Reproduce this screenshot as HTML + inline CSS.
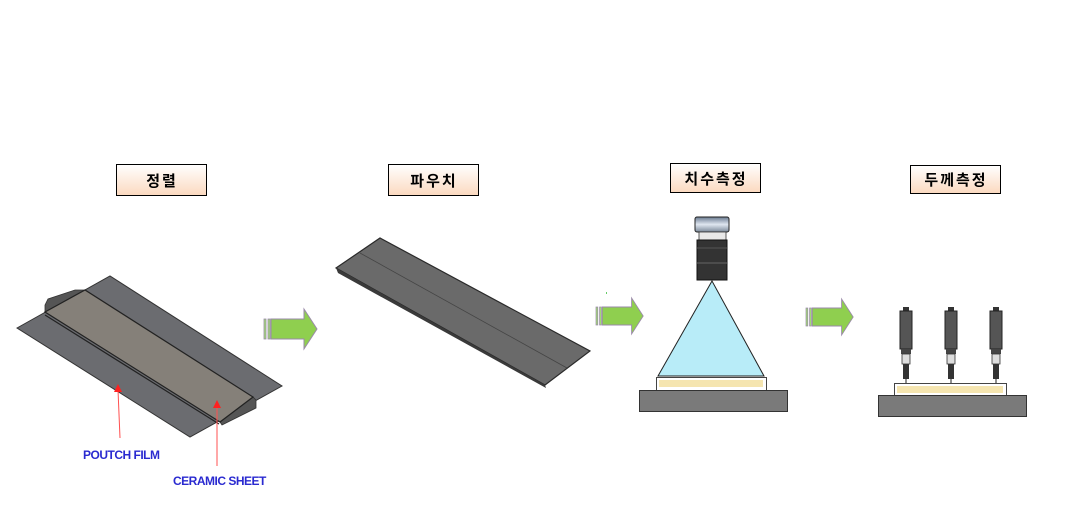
<!DOCTYPE html>
<html><head><meta charset="utf-8"><style>
body{margin:0;background:#fff;}
svg{display:block}
text{font-family:"Liberation Sans","Noto Sans CJK KR",sans-serif}
</style></head><body>
<svg width="1092" height="519" viewBox="0 0 1092 519" xmlns="http://www.w3.org/2000/svg">
<defs>
<linearGradient id="lg" x1="0" y1="0" x2="0" y2="1"><stop offset="0" stop-color="#fff"/><stop offset="1" stop-color="#fbd9bf"/></linearGradient>
<linearGradient id="cam" x1="0" y1="0" x2="0" y2="1"><stop offset="0" stop-color="#6a7a90"/><stop offset="0.5" stop-color="#dfe6f0"/><stop offset="1" stop-color="#7a8898"/></linearGradient>
<g id="arr">
<rect x="0" y="10" width="2" height="20" fill="#a0e070" stroke="#9a8aa8" stroke-width="0.8"/>
<rect x="4" y="10" width="2" height="20" fill="#a0e070" stroke="#9a8aa8" stroke-width="0.8"/>
<polygon points="7,10 40,10 40,0 53,20 40,40 40,30 7,30" fill="#8fcf4f" stroke="#9a8aa8" stroke-width="1"/>
</g>
<g id="probe">
<rect x="-3" y="0" width="6" height="5" fill="#333"/>
<rect x="-6" y="4" width="12" height="38" fill="#555" stroke="#222" stroke-width="1"/>
<rect x="-5" y="42" width="10" height="5" fill="#444"/>
<rect x="-4" y="47" width="8" height="10" fill="#ddd" stroke="#333" stroke-width="0.8"/>
<rect x="-3" y="57" width="6" height="15" fill="#333"/>
<line x1="0" y1="72" x2="0" y2="76" stroke="#222" stroke-width="1"/>
</g>
</defs>

<!-- labels -->
<g stroke="#000" stroke-width="1" fill="url(#lg)">
<rect x="116.5" y="164.5" width="90" height="31"/>
<rect x="388.5" y="164.5" width="90" height="31"/>
<rect x="670.5" y="163.5" width="90" height="29"/>
<rect x="910.5" y="165.5" width="90" height="28"/>
</g>
<g font-size="15" font-weight="bold" text-anchor="middle" fill="#000" letter-spacing="2">
<text x="162" y="186">정렬</text>
<text x="434" y="186">파우치</text>
<text x="716" y="184">치수측정</text>
<text x="956" y="185">두께측정</text>
</g>

<!-- left figure -->
<polygon points="17,328 110,276 282,386 190,437" fill="#6b6c70" stroke="#333" stroke-width="1"/>
<polygon points="45,305 48,299 75,290 85,290 45,312" fill="#555" stroke="#333" stroke-width="0.8"/>
<polygon points="220,422 253,397 256,400 256,408 222,425" fill="#555" stroke="#333" stroke-width="0.8"/>
<polygon points="45,312 85,290 253,397 220,422" fill="#858079" stroke="#222" stroke-width="1.2"/>
<line x1="45" y1="315" x2="219" y2="424" stroke="#222" stroke-width="1.2"/>
<line x1="120" y1="438" x2="118" y2="390" stroke="#ff5050" stroke-width="1"/>
<polygon points="114,392 118,384 122,392" fill="#ff2020"/>
<line x1="217" y1="466" x2="217" y2="406" stroke="#ff5050" stroke-width="1"/>
<polygon points="213,408 217,400 221,408" fill="#ff2020"/>
<text x="83" y="459" font-size="12" font-weight="bold" fill="#2a2ad0" letter-spacing="-0.5">POUTCH FILM</text>
<text x="173" y="485" font-size="12" font-weight="bold" fill="#2a2ad0" letter-spacing="-0.5">CERAMIC SHEET</text>

<!-- arrows -->
<use href="#arr" x="264" y="309"/>
<use href="#arr" transform="translate(596,298) scale(0.89,0.9)"/>
<use href="#arr" transform="translate(806,299) scale(0.89,0.9)"/>
<rect x="606" y="292" width="1" height="2" fill="#6c6"/>

<!-- pouch -->
<polygon points="336,268 380,238 590,351 545,385" fill="#6a6a6a" stroke="#2a2a2a" stroke-width="1.2"/>
<polygon points="336,268 338,273 546,388 545,385" fill="#3a3a3a"/>
<line x1="360" y1="253" x2="567" y2="368" stroke="#444" stroke-width="0.8"/>

<!-- camera measure -->
<polygon points="712,281 658,376 764,376" fill="#b8ecf8" stroke="#222" stroke-width="1"/>
<rect x="695" y="217" width="34" height="15" rx="2" fill="url(#cam)" stroke="#222"/>
<rect x="699" y="232" width="27" height="8" fill="#e8e8e8" stroke="#333" stroke-width="0.8"/>
<rect x="697" y="240" width="30" height="40" fill="#333" stroke="#111"/>
<line x1="697" y1="263" x2="727" y2="263" stroke="#666"/>
<line x1="697" y1="248" x2="727" y2="248" stroke="#555"/>
<rect x="656.5" y="377.5" width="110" height="13" fill="#fff" stroke="#444"/>
<rect x="659" y="380" width="104" height="7" fill="#f5e5b0"/>
<rect x="639.5" y="390.5" width="148" height="21" fill="#7a7a7a" stroke="#333"/>

<!-- thickness measure -->
<use href="#probe" x="906" y="307"/>
<use href="#probe" x="951" y="307"/>
<use href="#probe" x="996" y="307"/>
<rect x="894.5" y="383.5" width="112" height="12" fill="#fff" stroke="#444"/>
<rect x="897" y="386" width="106" height="7" fill="#f5e5b0"/>
<rect x="878.5" y="395.5" width="148" height="21" fill="#7a7a7a" stroke="#333"/>
</svg>
</body></html>
